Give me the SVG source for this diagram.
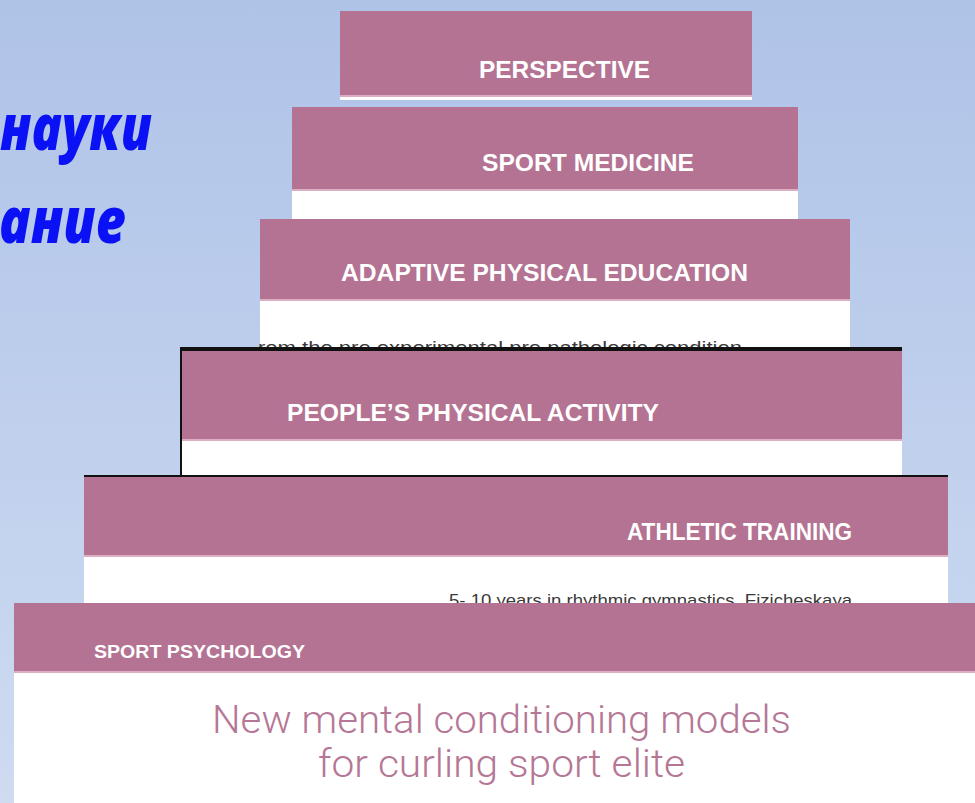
<svg xmlns="http://www.w3.org/2000/svg" width="975" height="803" viewBox="0 0 975 803">
  <defs>
    <linearGradient id="bg" x1="0" y1="0" x2="0" y2="1">
      <stop offset="0" stop-color="#afc3e8"/>
      <stop offset="1" stop-color="#cedbf1"/>
    </linearGradient>
  </defs>
  <style>
    .band{fill:#b47392}
    .edge{fill:#dcaec2}
    .body{fill:#ffffff}
    .head{font-family:"Liberation Sans",Arial,sans-serif;font-weight:bold;fill:#ffffff;font-size:24px}
    .sub{font-family:"Liberation Sans",Arial,sans-serif;fill:#3a3a3a}
    .ru{font-family:"Open Sans","Noto Sans",sans-serif;font-weight:800;font-style:italic;fill:#0a12f5;font-size:63px}
    .title{font-family:Roboto,"Liberation Sans",sans-serif;font-weight:300;fill:#b57795;font-size:39px}
    .blk{fill:#111111}
  </style>
  <rect x="0" y="0" width="975" height="803" fill="url(#bg)"/>

  <g id="ru-text">
    <text class="ru" x="0" y="150" textLength="152" lengthAdjust="spacingAndGlyphs">науки</text>
    <text class="ru" x="-1" y="243" textLength="127" lengthAdjust="spacingAndGlyphs">ание</text>
  </g>

  <g id="perspective">
    <rect class="body" x="340" y="11" width="412" height="89"/>
    <rect class="band" x="340" y="11" width="412" height="84"/>
    <rect class="edge" x="340" y="95" width="412" height="2"/>
    <text class="head" x="479" y="78" textLength="171" lengthAdjust="spacingAndGlyphs">PERSPECTIVE</text>
  </g>

  <g id="sport-medicine">
    <rect class="body" x="292" y="107" width="506" height="113"/>
    <rect class="band" x="292" y="107" width="506" height="82"/>
    <rect class="edge" x="292" y="189" width="506" height="2"/>
    <text class="head" x="482" y="171" textLength="212" lengthAdjust="spacingAndGlyphs">SPORT MEDICINE</text>
  </g>

  <g id="adaptive-physical-education">
    <rect class="body" x="260" y="219" width="590" height="130"/>
    <rect class="band" x="260" y="219" width="590" height="80"/>
    <rect class="edge" x="260" y="299" width="590" height="2"/>
    <text class="head" x="341" y="281" textLength="407" lengthAdjust="spacingAndGlyphs">ADAPTIVE PHYSICAL EDUCATION</text>
    <text class="sub" x="258" y="354" font-size="19" textLength="484" lengthAdjust="spacingAndGlyphs">rom the pre experimental pre pathologic condition</text>
  </g>

  <g id="peoples-physical-activity">
    <rect class="body" x="180" y="347" width="722" height="130"/>
    <rect class="band" x="180" y="351" width="722" height="88"/>
    <rect class="edge" x="180" y="439" width="722" height="2"/>
    <rect class="blk" x="180" y="347" width="722" height="4"/>
    <rect class="blk" x="180" y="347" width="2" height="130"/>
    <text class="head" x="287" y="421" textLength="372" lengthAdjust="spacingAndGlyphs">PEOPLE’S PHYSICAL ACTIVITY</text>
  </g>

  <g id="athletic-training">
    <rect class="body" x="84" y="475" width="864" height="130"/>
    <rect class="band" x="84" y="477" width="864" height="78"/>
    <rect class="edge" x="84" y="555" width="864" height="2"/>
    <rect class="blk" x="84" y="475" width="864" height="2"/>
    <text class="head" x="627" y="540" textLength="225" lengthAdjust="spacingAndGlyphs">ATHLETIC TRAINING</text>
    <text class="sub" x="449" y="606" font-size="17" textLength="403" lengthAdjust="spacingAndGlyphs">5- 10 years in rhythmic gymnastics. Fizicheskaya</text>
  </g>

  <g id="sport-psychology">
    <rect class="body" x="14" y="603" width="961" height="200"/>
    <rect class="band" x="14" y="603" width="961" height="68"/>
    <rect class="edge" x="14" y="671" width="961" height="2"/>
    <text class="head" x="94" y="658" style="font-size:19px" textLength="211" lengthAdjust="spacingAndGlyphs">SPORT PSYCHOLOGY</text>
    <text class="title" x="212" y="733" textLength="579" lengthAdjust="spacingAndGlyphs">New mental conditioning models</text>
    <text class="title" x="318" y="777" textLength="367" lengthAdjust="spacingAndGlyphs">for curling sport elite</text>
  </g>

  <g id="connectors"/>
</svg>
